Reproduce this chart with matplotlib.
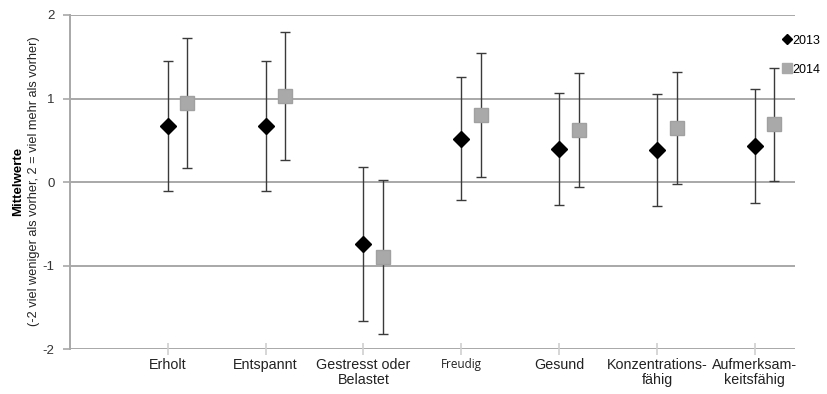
import matplotlib
matplotlib.use("Agg")
import matplotlib.pyplot as plt
from matplotlib.lines import Line2D
import numpy as np

plt.rcParams['font.family'] = ['Liberation Sans', 'DejaVu Sans']

categories = ["Erholt", "Entspannt", "Gestresst oder\nBelastet", "Freudig",
              "Gesund", "Konzentrations-\nfähig", "Aufmerksam-\nkeitsfähig"]
mean_2013 = [0.67, 0.67, -0.74, 0.52, 0.40, 0.38, 0.43]
err_2013 = [0.78, 0.78, 0.92, 0.74, 0.67, 0.67, 0.68]
mean_2014 = [0.95, 1.03, -0.90, 0.80, 0.62, 0.65, 0.69]
err_2014 = [0.78, 0.77, 0.92, 0.74, 0.68, 0.67, 0.68]
yticks = [-2, -1, 0, 1, 2]

fig = plt.figure(figsize=(8.28, 3.94), dpi=100)
ax = fig.add_axes([0.0845, 0.114, 0.8755, 0.848])

x = np.arange(1, len(categories) + 1)
grid_col = "#a8a8a8"
for yv in yticks:
    ax.axhline(yv, color=grid_col, lw=1.4, zorder=1)

ax.errorbar(x, mean_2013, yerr=err_2013, fmt='D', color='black', ms=8,
            ecolor='#3a3a3a', elinewidth=1.0, capsize=3.5, capthick=1.0,
            zorder=3, label='2013')
ax.errorbar(x + 0.2, mean_2014, yerr=err_2014, fmt='s', color='#a9a9a9', ms=10.5,
            mec='#a0a0a0', ecolor='#3a3a3a', elinewidth=1.0, capsize=3.5,
            capthick=1.0, zorder=3, label='2014')

ax.set_xlim(0, 7.41)
ax.set_ylim(-2, 2)
ax.set_yticks(yticks)
ax.set_yticklabels([str(v) for v in yticks], fontsize=9.5, color='#333333')
ax.set_xticks(x)
ax.set_xticklabels(categories, fontsize=10.3, color='#222222', linespacing=1.1)
for lbl in ax.get_xticklabels():
    if lbl.get_text() == "Freudig":
        lbl.set_family(['Open Sans', 'DejaVu Sans'])
        lbl.set_fontsize(8.5)
ax.tick_params(axis='x', direction='inout', length=9, width=1.2,
               color='#d0d0d0', pad=2)
ax.tick_params(axis='y', direction='out', length=5, width=1.2,
               color=grid_col, pad=6)

for s in ['top', 'right', 'bottom']:
    ax.spines[s].set_visible(False)
ax.spines['left'].set_color(grid_col)
ax.spines['left'].set_linewidth(1.4)

fig.text(0.022, 0.54, "Mittelwerte", rotation=90, ha='center', va='center',
         fontsize=9.5, fontweight='bold')
fig.text(0.041, 0.54, "(-2 viel weniger als vorher, 2 = viel mehr als vorher)",
         rotation=90, ha='center', va='center', fontsize=9.2, color='#222222')

handles = [Line2D([], [], ls='none', marker='D', color='black', ms=5.5),
           Line2D([], [], ls='none', marker='s', color='#a9a9a9', ms=7.5)]
fig.legend(handles, ['2013', '2014'], loc='upper left',
           bbox_to_anchor=(0.946, 0.912), frameon=False, fontsize=9,
           handlelength=0.6, handletextpad=0.15, labelspacing=1.35,
           borderaxespad=0, borderpad=0)

fig.savefig("out.png", dpi=100)
